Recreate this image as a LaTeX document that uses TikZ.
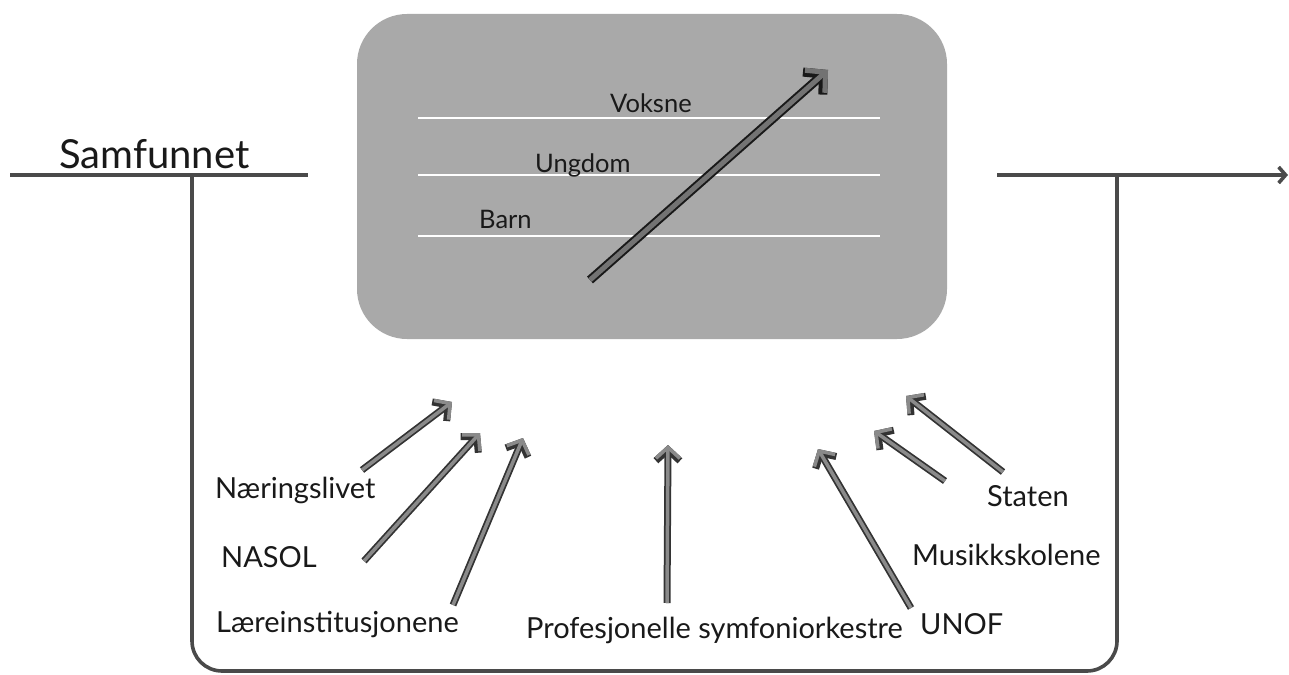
\documentclass[tikz,border=0pt]{standalone}
\usepackage{fontspec}
\setmainfont{Lato}
\usetikzlibrary{arrows.meta}
\definecolor{boxgray}{HTML}{A9A9A9}
\definecolor{arrgray}{HTML}{8A8A8A}
\definecolor{linedark}{HTML}{4A4A4A}
\tikzset{
  frameline/.style={draw=linedark, line width=3.6pt},
  bigarrow/.style={draw=black!80, line width=7pt, -{Straight Barb[length=11pt,width=24pt]},
    postaction={draw=arrgray, line width=3.5pt, -{Straight Barb[length=11pt,width=24pt]}}},
  lbl/.style={inner sep=0pt, font=\fontsize{29}{32}\selectfont, text=black!90},
  agelbl/.style={inner sep=0pt, font=\fontsize{25.5}{28}\selectfont, text=black!90},
  whiteline/.style={draw=white, line width=2pt}
}
\begin{document}
\begin{tikzpicture}[x=1pt,y=-1pt]
\useasboundingbox (0,0) rectangle (1289,674);
% central box
\node[draw=none, fill=boxgray, rounded corners=50pt, minimum width=590pt, minimum height=325pt, inner sep=0pt] (box) at (652,176.5) {};
% age lines
\draw[whiteline] (418,118) -- (880,118);
\draw[whiteline] (418,175) -- (880,175);
\draw[whiteline] (418,236) -- (880,236);
\node[agelbl, anchor=base west] (voksne) at (610,113) {Voksne};
\node[agelbl, anchor=base west] (ungdom) at (535,172) {Ungdom};
\node[agelbl, anchor=base west] (barn) at (479,228) {Barn};
\coordinate (gs) at (590,280);
\coordinate (ge) at (828,70);
\draw[draw=black!90, line width=9pt, -{Straight Barb[length=14pt,width=30pt]},
  postaction={draw=black!55, line width=5pt, -{Straight Barb[length=14pt,width=30pt]}}] (gs) -- (ge);
% frame
\coordinate (sl) at (10,175);
\coordinate (sr) at (308,175);
\coordinate (lt) at (192,175);
\coordinate (rt) at (1117,175);
\coordinate (ol) at (997,175);
\coordinate (or) at (1288,175);
\draw[frameline] (sl) -- (sr);
\draw[frameline, rounded corners=30pt] (lt) -- (192,671) -- (1117,671) -- (rt);
\draw[frameline, -{Straight Barb[length=7pt,width=16pt]}] (ol) -- (or);
\node[inner sep=0pt, anchor=base west, font=\fontsize{40}{42}\selectfont, text=black!90] (samf) at (59,168) {Samfunnet};
% labels
\node[lbl, anchor=base west] (naer) at (215,498) {Næringslivet};
\node[lbl, anchor=base west] (nasol) at (221,567) {NASOL};
\node[lbl, anchor=base west] (laere) at (216,632) {Læreinstitusjonene};
\node[lbl, anchor=base west] (prof) at (526,638) {Profesjonelle symfoniorkestre};
\node[lbl, anchor=base west] (unof) at (920,634) {UNOF};
\node[lbl, anchor=base west] (musikk) at (912,565) {Musikkskolene};
\node[lbl, anchor=base west] (staten) at (987,506) {Staten};
% arrow coordinates
\coordinate (a1s) at (362,470); \coordinate (a1e) at (452,402);
\coordinate (a2s) at (364,561); \coordinate (a2e) at (480,433);
\coordinate (a3s) at (453,605); \coordinate (a3e) at (523,438);
\coordinate (a4s) at (667,603); \coordinate (a4e) at (668,445);
\coordinate (a5s) at (911,608); \coordinate (a5e) at (818,449);
\coordinate (a6s) at (945,481); \coordinate (a6e) at (874,431);
\coordinate (a7s) at (1003,472); \coordinate (a7e) at (906,396);
\draw[bigarrow] (a1s) -- (a1e);
\draw[bigarrow] (a2s) -- (a2e);
\draw[bigarrow] (a3s) -- (a3e);
\draw[bigarrow] (a4s) -- (a4e);
\draw[bigarrow] (a5s) -- (a5e);
\draw[bigarrow] (a6s) -- (a6e);
\draw[bigarrow] (a7s) -- (a7e);
\end{tikzpicture}
\end{document}
